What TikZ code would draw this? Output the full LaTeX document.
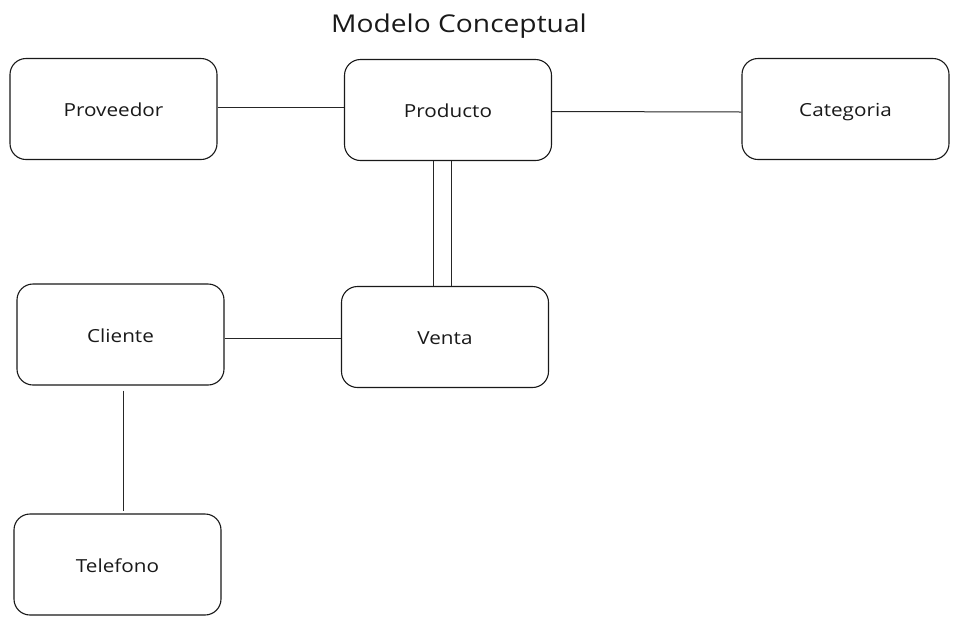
\documentclass[tikz,border=0pt]{standalone}
\usepackage{fontspec}
\setmainfont{Open Sans}
\newfontfamily\handfont[FakeStretch=1.15]{Open Sans}
\begin{document}
\begin{tikzpicture}[x=1pt,y=-1pt,
  entity/.style={draw=black!90,line width=1.1pt,rounded corners=16pt,minimum width=207pt,minimum height=101pt,font=\handfont\fontsize{18}{20}\selectfont,text=black!90,text height=16pt,text depth=1pt},
  conn/.style={draw=black!85,line width=1pt}]
\useasboundingbox (0,0) rectangle (959,625);
\node[font=\handfont\fontsize{24.5}{28}\selectfont,text=black!90] (title) at (459,26) {Modelo Conceptual};
\node[entity] (prov) at (113.5,109) {Proveedor};
\node[entity] (prod) at (448,110) {Producto};
\node[entity] (cat) at (845.5,109) {Categoria};
\node[entity] (cli) at (120.5,334.5) {Cliente};
\node[entity] (ven) at (445,337) {Venta};
\node[entity] (tel) at (117.5,564.5) {Telefono};
\draw[conn] ([yshift=2pt]prov.east) -- ([yshift=3pt]prod.west);
\draw[conn] ([yshift=-1.5pt]prod.east) -- ([yshift=-3pt]cat.west);
\draw[conn] ([xshift=-15pt]prod.south) -- ([xshift=-12pt]ven.north);
\draw[conn] ([xshift=3pt]prod.south) -- ([xshift=6pt]ven.north);
\draw[conn] ([yshift=-3.5pt]cli.east) -- ([yshift=-1pt]ven.west);
\draw[conn,shorten <=5pt,shorten >=2pt] ([xshift=3pt]cli.south) -- ([xshift=6pt]tel.north);
\end{tikzpicture}
\end{document}
